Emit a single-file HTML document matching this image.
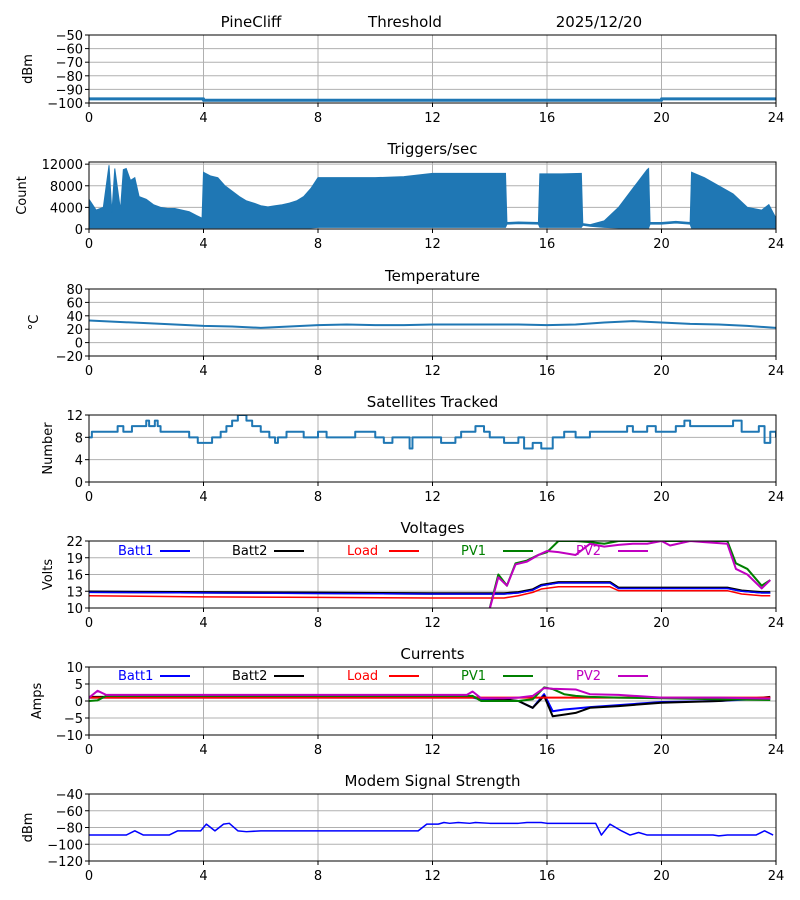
<!DOCTYPE html>
<html><head><meta charset="utf-8"><style>
html,body{margin:0;padding:0;background:#fff;}
svg{display:block;font-family:"DejaVu Sans","Liberation Sans",sans-serif;}
</style></head><body>
<svg id="chart" width="800" height="900" viewBox="0 0 800 900" xmlns="http://www.w3.org/2000/svg">
<text x="251" y="27" font-size="15" text-anchor="middle">PineCliff</text>
<text x="405" y="27" font-size="15" text-anchor="middle">Threshold</text>
<text x="599" y="27" font-size="15" text-anchor="middle">2025/12/20</text>
</svg>
<script>
// ---- data ----
const xTicks = [0,4,8,12,16,20,24];
const noiseT = [0,3.9,4.0,20.0,24];
const noiseV = [-97,-97,-98,-97,-97];
const trigT = [0,0.25,0.5,0.7,0.8,0.9,1.1,1.2,1.3,1.45,1.6,1.75,2.0,2.25,2.5,2.75,3.0,3.25,3.5,3.75,3.95,4.0,4.25,4.5,4.75,5.0,5.25,5.5,5.75,6.0,6.25,6.5,6.75,7.0,7.25,7.5,7.75,8.0,9.0,10.0,11.0,11.5,12.0,13.0,14.0,14.55,14.6,15.0,15.7,15.75,16.5,17.2,17.25,17.5,18.0,18.5,19.0,19.5,19.55,19.6,20.0,20.5,21.0,21.05,21.5,22.0,22.5,23.0,23.5,23.75,24];
const trigHi = [5500,3500,4000,11800,3000,11200,3500,11000,11200,9000,9500,6000,5500,4500,4000,3800,3800,3500,3200,2500,2000,10500,9800,9500,8000,7000,6000,5200,4800,4300,4100,4300,4500,4800,5200,6000,7500,9500,9500,9500,9700,10000,10300,10300,10300,10300,1200,1300,1200,10200,10200,10300,1000,800,1500,4000,7500,11000,11200,1200,1200,1400,1200,10500,9500,8000,6500,4000,3500,4500,2000];
const trigLo = [200,200,200,200,200,200,200,200,200,200,200,200,200,200,200,200,200,200,200,200,200,200,200,200,200,200,200,200,200,200,200,200,200,200,200,200,200,300,300,300,300,300,300,300,300,300,900,1000,900,300,300,300,700,500,300,200,200,200,200,900,900,1100,900,200,200,200,200,200,200,200,200];
const tempT = [0,1,2,3,4,5,6,7,8,9,10,11,12,13,14,15,16,17,18,19,20,21,22,23,24];
const tempV = [33,31,29,27,25,24,22,24,26,27,26,26,27,27,27,27,26,27,30,32,30,28,27,25,22];
const satT = [0,0.1,1,1.2,1.5,2,2.1,2.3,2.4,2.5,3.2,3.5,3.8,4.3,4.6,4.8,5.0,5.2,5.5,5.7,6.0,6.3,6.5,6.6,6.9,7.5,8.0,8.3,9.3,10,10.3,10.6,11.2,11.3,12.3,12.8,13,13.5,13.8,14,14.5,15,15.2,15.5,15.8,16.2,16.6,17,17.5,18.8,19,19.5,19.8,20.5,20.8,21,22.5,22.8,23.4,23.6,23.8,24];
const satV = [8,9,10,9,10,11,10,11,10,9,9,8,7,8,9,10,11,12,11,10,9,8,7,8,9,8,9,8,9,8,7,8,6,8,7,8,9,10,9,8,7,8,6,7,6,8,9,8,9,10,9,10,9,10,11,10,11,9,10,7,9,8];
const vT = [0,4,8,12,13.9,14.5,15.0,15.5,15.8,16.4,17,18,18.2,18.5,20,22.3,22.8,23.5,23.8];
const batt1V = [12.8,12.7,12.6,12.5,12.5,12.5,12.7,13.2,14.0,14.5,14.5,14.5,14.5,13.5,13.5,13.5,13.0,12.7,12.7];
const batt2V = [12.9,12.8,12.7,12.6,12.6,12.6,12.8,13.3,14.1,14.6,14.6,14.6,14.6,13.6,13.6,13.6,13.1,12.8,12.8];
const loadV = [12.2,12.0,11.9,11.8,11.8,11.8,12.2,12.8,13.4,13.8,13.8,13.8,13.8,13.1,13.1,13.1,12.5,12.2,12.2];
const pvT = [13.9,14.3,14.6,14.9,15.3,15.7,16.0,16.4,17,17.5,18,18.5,19,19.5,20,20.3,21,21.5,22.3,22.6,23,23.5,23.8];
const pv1V = [8,16,14,18,18.5,19.5,20,22,22,21.8,21.5,22,22,22,22,22,22,22,22,18,17,14,15];
const pv2V = [8,15.5,14,17.8,18.3,19.5,20.2,20,19.5,21.5,21,21.3,21.5,21.5,22,21.2,22,21.8,21.5,17,16,13.5,15];
const iT = [0,0.3,0.6,4,8,12,13.2,13.4,13.7,14.5,15,15.5,15.9,16.2,16.6,17,17.5,18.5,20,22,23.8];
const batt1I = [1,1,1,1,1,1,1,1,0.5,0.3,0,-2,2,-3,-2.5,-2.2,-1.8,-1.2,-0.3,0,0.8];
const batt2I = [1.2,1.2,1.2,1.2,1.2,1.2,1.2,1.2,0.8,0.5,0,-2,1.5,-4.5,-4,-3.5,-2,-1.5,-0.5,0,1.2];
const loadI = [1,1,1,1,1,1,1,1,1,1,1,1,1,1,1,1,1,1,1,1,1];
const pv1I = [0,0.2,1.5,1.5,1.5,1.5,1.5,1.5,0,0,0,0.5,4,3.5,2,1.5,1.2,1,0.8,0.5,0.3];
const pv2I = [1,3,1.8,1.8,1.8,1.8,1.8,2.8,0.8,0.8,1,1.5,3.8,3.6,3.5,3.4,2,1.8,1,1,0.7];
const modemT = [0,1.3,1.6,1.9,2.8,3.1,3.9,4.1,4.4,4.7,4.9,5.2,5.5,6,11.5,11.8,12.2,12.4,12.6,12.9,13.3,13.5,14,15,15.3,15.8,16,17.7,17.9,18.2,18.6,18.9,19.2,19.5,21.8,22,22.3,23.3,23.6,23.9];
const modemV = [-89,-89,-84,-89,-89,-84,-84,-76,-84,-76,-75,-84,-85,-84,-84,-76,-76,-74,-75,-74,-75,-74,-75,-75,-74,-74,-75,-75,-89,-76,-84,-89,-86,-89,-89,-90,-89,-89,-84,-89];

// ---- drawing ----
const NS="http://www.w3.org/2000/svg";
const svg=document.getElementById('chart');
const X0=89,X1=776;
function mk(tag,attrs,parent){const e=document.createElementNS(NS,tag);for(const k in attrs)e.setAttribute(k,attrs[k]);(parent||svg).appendChild(e);return e;}
function xs(t){return X0+(t/24)*(X1-X0);}
function panel(name,top,bot,ymin,ymax,yticks,title,ylabel,ylx){
  const g=mk('g',{});
  
  
  const ys=v=>bot-(v-ymin)/(ymax-ymin)*(bot-top);
  xTicks.forEach(t=>{const l=mk('line',{x1:xs(t),x2:xs(t),y1:top,y2:bot,stroke:'#b0b0b0','stroke-width':1},g);
    });
  yticks.forEach(v=>{const l=mk('line',{x1:X0,x2:X1,y1:ys(v),y2:ys(v),stroke:'#b0b0b0','stroke-width':1},g);
    });
  const plot=mk('g',{'clip-path':'url(#clip-'+name+')'},g);
  const cp=mk('clipPath',{id:'clip-'+name},g);mk('rect',{x:X0,y:top,width:X1-X0,height:bot-top},cp);
  const frame=()=>{
    const r=mk('rect',{x:X0,y:top,width:X1-X0,height:bot-top,fill:'none',stroke:'#000','stroke-width':1},g);
    
    xTicks.forEach(t=>{mk('line',{x1:xs(t),x2:xs(t),y1:bot,y2:bot+4,stroke:'#000'},g);
      const tx=mk('text',{x:xs(t),y:bot+19,'font-size':13,'text-anchor':'middle'},g);tx.textContent=t;
      });
    yticks.forEach(v=>{mk('line',{x1:X0-4,x2:X0,y1:ys(v),y2:ys(v),stroke:'#000'},g);
      const tx=mk('text',{x:X0-6,y:ys(v)+5,'font-size':13,'text-anchor':'end'},g);tx.textContent=String(v).replace('-','\u2212');
      });
    if(title){const tt=mk('text',{x:(X0+X1)/2,y:top-8,'font-size':15,'text-anchor':'middle'},g);tt.textContent=title;
      }
    const yl=mk('text',{x:0,y:0,'font-size':13,'text-anchor':'middle',transform:'translate('+ylx+','+((top+bot)/2)+') rotate(-90)'},g);yl.textContent=ylabel;
    
  };
  return {g,plot,ys,frame};
}
function line(p,T,V,color,w,name,step){
  let d='';T.forEach((t,i)=>{const x=xs(t),y=p.ys(V[i]);
    if(i===0)d+='M'+x+','+y;else if(step)d+='H'+x+'V'+y;else d+='L'+x+','+y;});
  const e=mk('path',{d,fill:'none',stroke:color,'stroke-width':w,'stroke-linejoin':'round'},p.plot);
  
  
}
function legend(p,y){
  const items=[['Batt1','#0000ff',118],['Batt2','#000000',232],['Load','#ff0000',347],['PV1','#008000',461],['PV2','#c000c0',576]];
  items.forEach(([n,c,x])=>{
    const t=mk('text',{x:x,y:y+5,'font-size':13,fill:c},p.g);t.textContent=n;
    
    
    mk('line',{x1:x+42,x2:x+72,y1:y+1,y2:y+1,stroke:c,'stroke-width':2},p.g);
  });
}
const C0='#1f77b4';
// panel 1
let p=panel('noise',35,103,-100,-50,[-50,-60,-70,-80,-90,-100],null,'dBm',32);
line(p,noiseT,noiseV,C0,3,'noise-line',true);p.frame();
// panel 2 triggers
p=panel('triggers',162,229,0,12400,[0,4000,8000,12000],'Triggers/sec','Count',26);
{let d='';trigT.forEach((t,i)=>{d+=(i?'L':'M')+xs(t)+','+p.ys(trigHi[i]);});
 for(let i=trigT.length-1;i>=0;i--)d+='L'+xs(trigT[i])+','+p.ys(trigLo[i]);d+='Z';
 const a=mk('path',{d,fill:C0,stroke:C0,'stroke-width':1},p.plot);
 
 }
p.frame();
// panel 3 temperature
p=panel('temperature',289,356,-20,80,[80,60,40,20,0,-20],'Temperature','\u00B0C',38);
line(p,tempT,tempV,C0,2,'temperature-line');p.frame();
// panel 4 satellites
p=panel('satellites',415,482,0,12,[12,8,4,0],'Satellites Tracked','Number',52);
line(p,satT,satV,C0,2,'satellites-line',true);p.frame();
// panel 5 voltages
p=panel('voltages',541,608,10,22,[22,19,16,13,10],'Voltages','Volts',52);
line(p,vT,batt2V,'#000000',2.5,'batt2-voltage-line');
line(p,vT,batt1V,'#0000ff',1.5,'batt1-voltage-line');
line(p,vT,loadV,'#ff0000',1.5,'load-voltage-line');
line(p,pvT,pv1V,'#008000',2,'pv1-voltage-line');
line(p,pvT,pv2V,'#c000c0',2,'pv2-voltage-line');
legend(p,550);p.frame();
// panel 6 currents
p=panel('currents',667,735,-10,10,[10,5,0,-5,-10],'Currents','Amps',41);
line(p,iT,batt1I,'#0000ff',2,'batt1-current-line');
line(p,iT,batt2I,'#000000',2,'batt2-current-line');
line(p,iT,loadI,'#ff0000',2,'load-current-line');
line(p,iT,pv1I,'#008000',2,'pv1-current-line');
line(p,iT,pv2I,'#c000c0',2,'pv2-current-line');
legend(p,675);p.frame();
// panel 7 modem
p=panel('modem',794,861,-120,-40,[-40,-60,-80,-100,-120],'Modem Signal Strength','dBm',32);
line(p,modemT,modemV,'#0000ff',1.5,'modem-signal-line');p.frame();
</script>
</body></html>
